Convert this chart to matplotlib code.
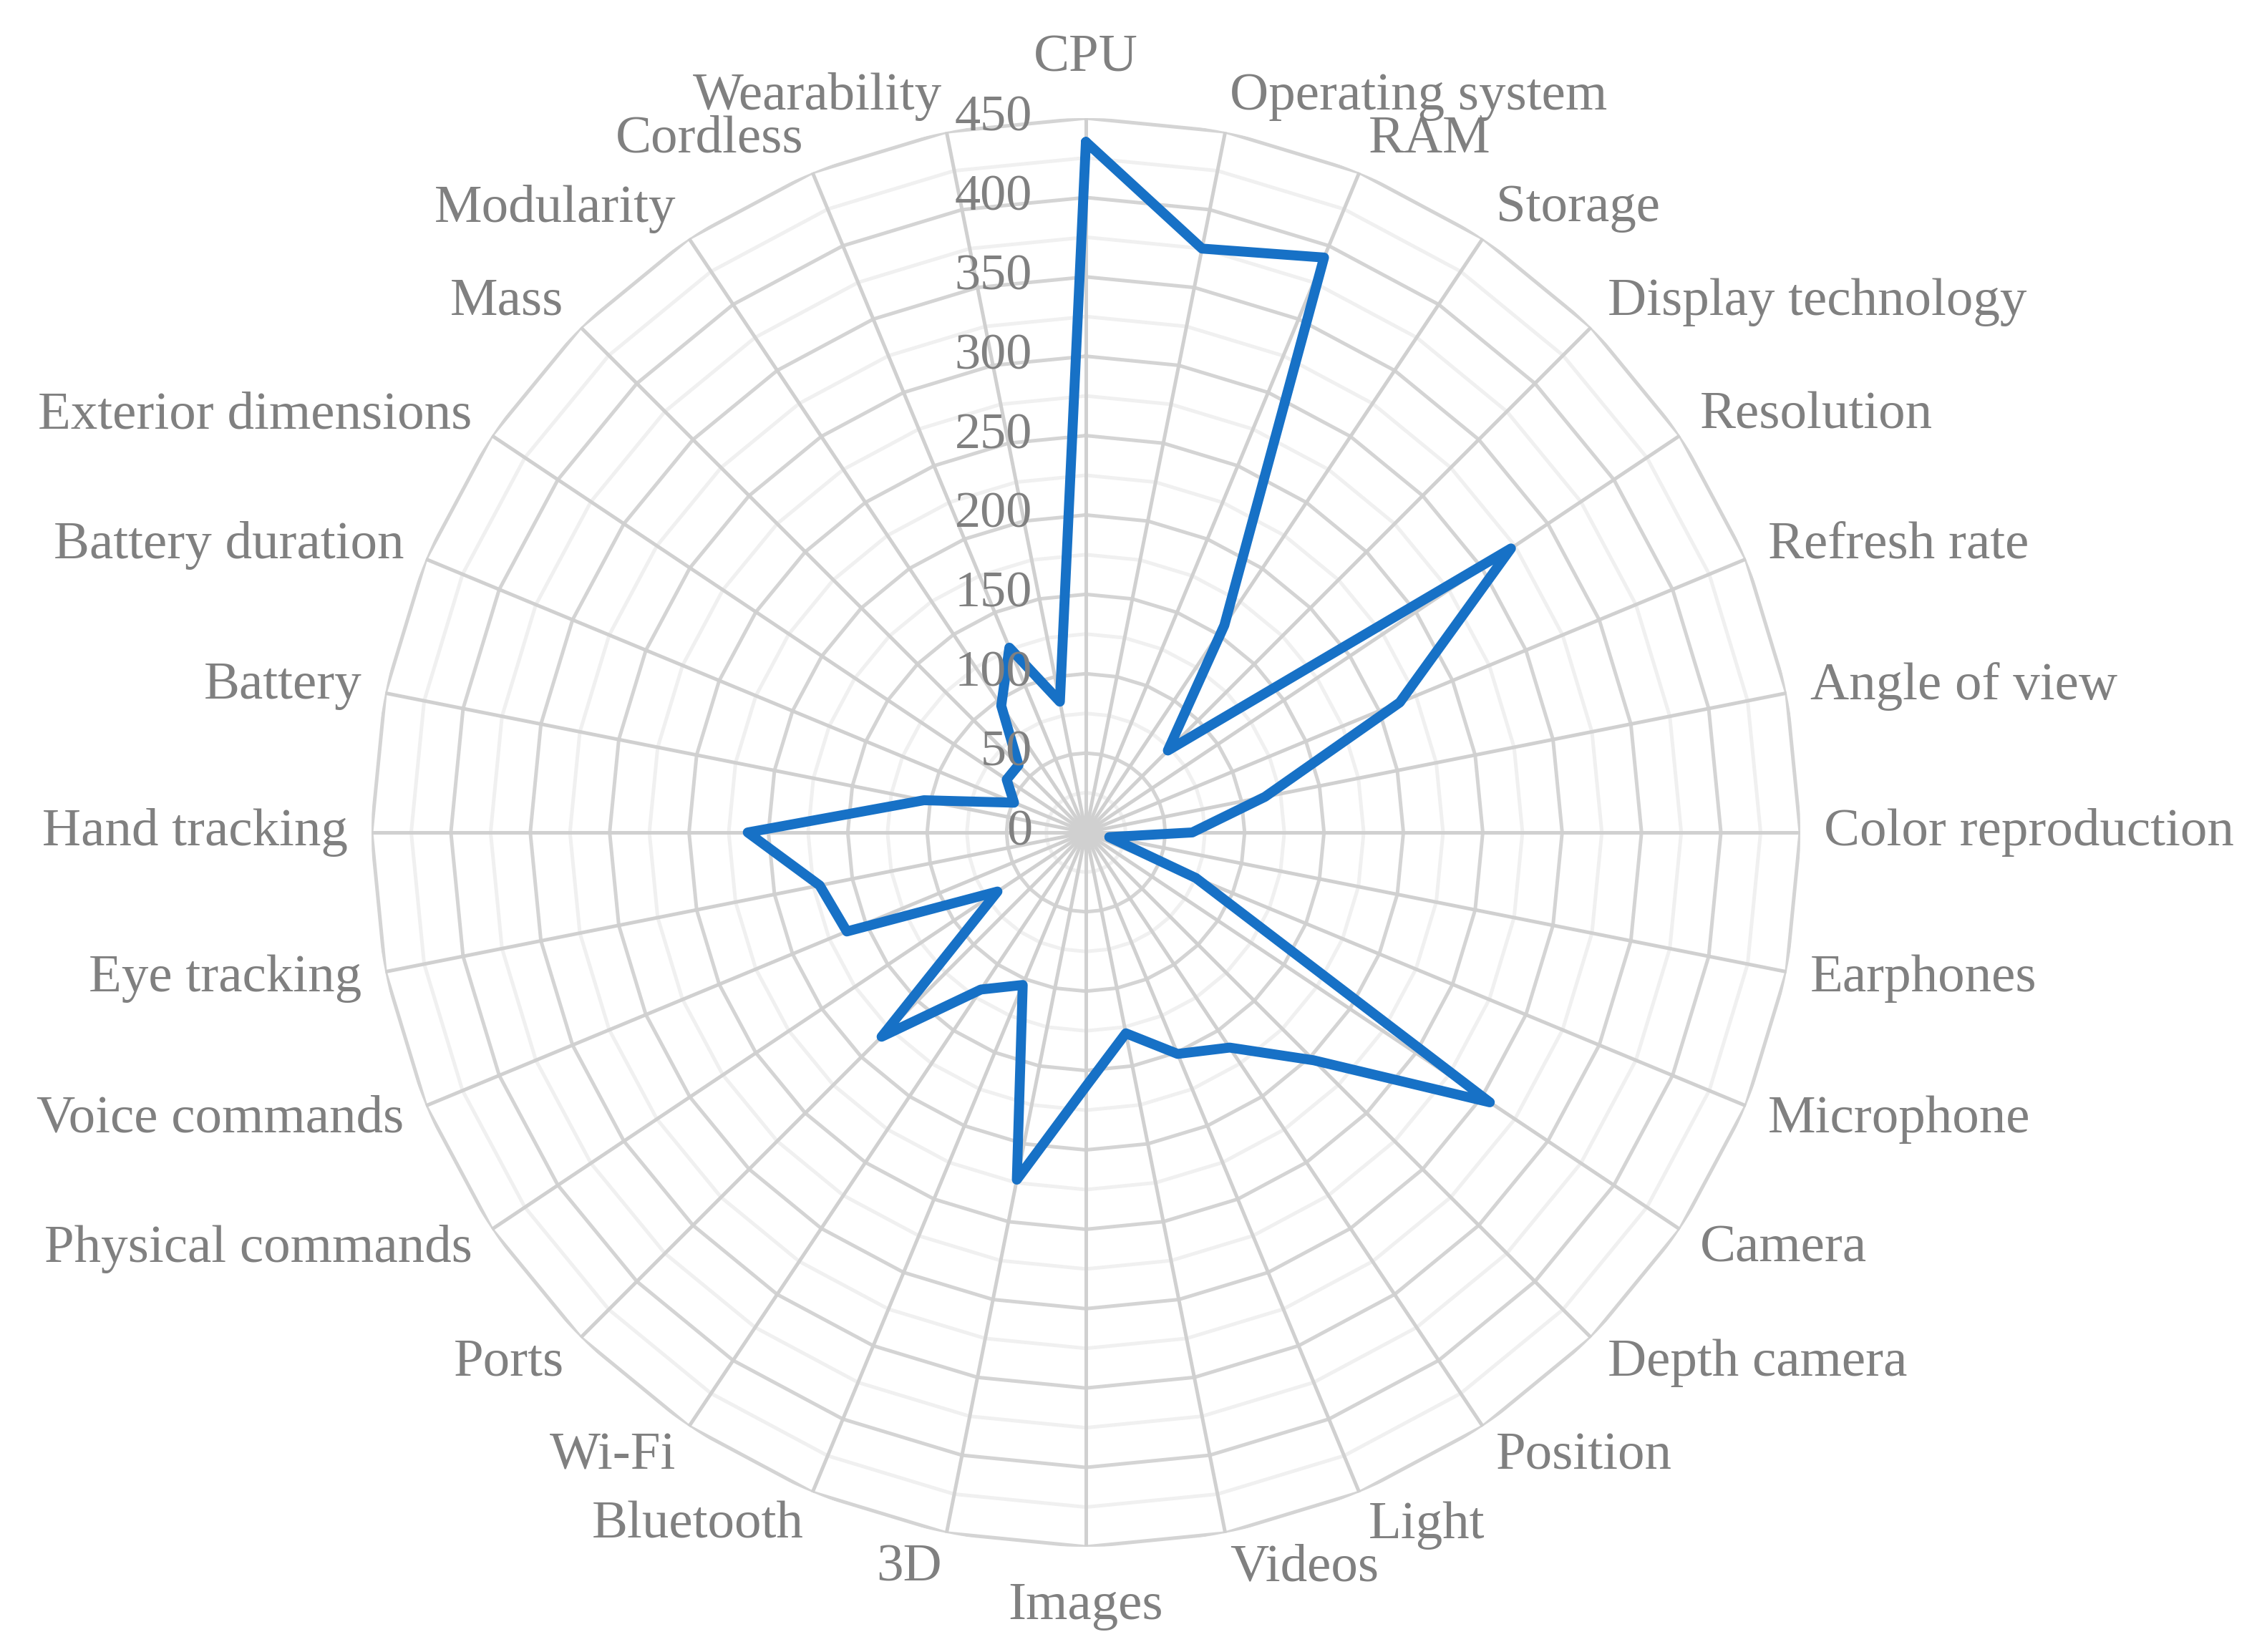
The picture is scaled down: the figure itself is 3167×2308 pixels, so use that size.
import numpy as np
import matplotlib
matplotlib.use("Agg")
import matplotlib.pyplot as plt

categories = ["CPU", "Operating system", "RAM", "Storage", "Display technology",
              "Resolution", "Refresh rate", "Angle of view", "Color reproduction",
              "Earphones", "Microphone", "Camera", "Depth camera", "Position",
              "Light", "Videos", "Images", "3D", "Bluetooth", "Wi-Fi", "Ports",
              "Physical commands", "Voice commands", "Eye tracking", "Hand tracking",
              "Battery", "Battery duration", "Exterior dimensions", "Mass",
              "Modularity", "Cordless", "Wearability"]
values = [435, 375, 392, 157, 73, 322, 214, 115, 67, 15, 75, 306, 203, 163,
          151, 129, 160, 223, 104, 119, 182, 67, 163, 171, 213, 104, 49, 60,
          60, 96, 126, 84]
ticks = list(range(0, 451, 50))

plt.rcParams['font.family'] = ['Liberation Serif', 'DejaVu Serif']
W, H = 3167, 2308
fig = plt.figure(figsize=(W / 200, H / 200), dpi=200)
cx, cy, R = 1517, 1163, 998
ax = fig.add_axes([(cx - R) / W, (H - cy - R) / H, 2 * R / W, 2 * R / H], projection='polar')
ax.set_theta_offset(np.pi / 2)
ax.set_theta_direction(-1)
ax.set_ylim(0, 450)
ax.grid(False)
ax.spines['polar'].set_visible(False)
ax.set_xticks([])
ax.set_yticks([])

n = len(categories)
theta = np.arange(n) * 2 * np.pi / n
tc = np.append(theta, theta[0])

# polygon rings: light every 25, darker every 50
for r in range(25, 451, 25):
    col = '#d4d4d4' if r % 50 == 0 else '#f0f0f0'
    ax.plot(tc, [r] * (n + 1), color=col, lw=1.8, zorder=1)
for t in theta:
    ax.plot([t, t], [0, 450], color='#d0d0d0', lw=1.8, zorder=2)

ax.plot(tc, values + [values[0]], color='#1771c6', lw=5, zorder=5,
        solid_joinstyle='round', solid_capstyle='round')

for v in ticks:
    ax.annotate(str(v), xy=(0, v), xytext=(-27, 0), textcoords='offset points',
                ha='right', va='center', fontsize=26, color='#808080', zorder=6)

for t, lab in zip(theta, categories):
    s, c = np.sin(t), np.cos(t)
    ha = 'center' if abs(s) < 0.05 else ('left' if s > 0 else 'right')
    dy = 30 * c if abs(c) > 0.99 else 18 * c
    ax.annotate(lab, xy=(t, 450), xytext=(12 * s, dy), textcoords='offset points',
                ha=ha, va='center', fontsize=27, color='#808080', annotation_clip=False)

fig.savefig("out.png", dpi=200)
